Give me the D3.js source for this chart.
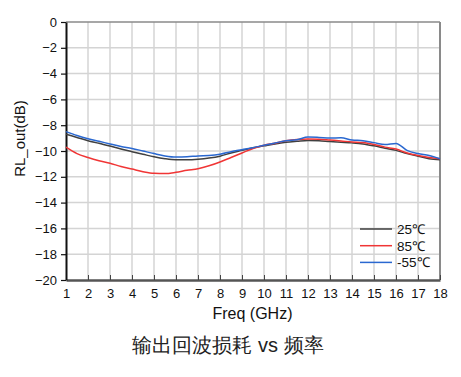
<!DOCTYPE html>
<html><head><meta charset="utf-8">
<script src="https://cdn.jsdelivr.net/npm/d3@7"></script>
<style>body{margin:0;background:#fff}svg{display:block}text{font-family:"Liberation Sans",Arial,sans-serif}</style>
</head><body>
<svg id="c" width="461" height="377"></svg>
<script>
const freq = d3.range(1, 18.01, 0.5);
const rl25 = [-8.7,-8.95,-9.2,-9.4,-9.62,-9.85,-10.05,-10.25,-10.45,-10.6,-10.68,-10.68,-10.64,-10.55,-10.4,-10.15,-9.95,-9.75,-9.6,-9.45,-9.33,-9.25,-9.18,-9.2,-9.27,-9.32,-9.37,-9.45,-9.6,-9.78,-9.95,-10.2,-10.4,-10.6,-10.68];
const rl85 = [-9.7,-10.2,-10.5,-10.75,-10.95,-11.2,-11.4,-11.6,-11.73,-11.75,-11.65,-11.5,-11.38,-11.15,-10.85,-10.5,-10.15,-9.8,-9.55,-9.4,-9.2,-9.1,-9.07,-9.08,-9.15,-9.22,-9.3,-9.35,-9.5,-9.7,-9.85,-10.15,-10.35,-10.5,-10.6];
const rlm55 = [-8.5,-8.8,-9.05,-9.25,-9.45,-9.65,-9.8,-10.0,-10.2,-10.38,-10.47,-10.45,-10.38,-10.35,-10.25,-10.05,-9.9,-9.75,-9.55,-9.38,-9.2,-9.12,-8.92,-8.95,-9.0,-8.98,-9.15,-9.2,-9.35,-9.5,-9.42,-9.95,-10.2,-10.35,-10.6];
const seriesNames = ["25℃","85℃","-55℃"];
const seriesColors = ["#404040","#f03535","#2a68d0"];
const xTicks = d3.range(1, 19, 1);
const yTicks = d3.range(-20, 1, 2);
const xTitle = "Freq (GHz)", yTitle = "RL_out(dB)", chartTitle = "输出回波损耗 vs 频率";

const svg = d3.select("#c");
const L = 66, R = 440, T = 22, B = 280;
const x = d3.scaleLinear().domain([1, 18]).range([L, R]);
const y = d3.scaleLinear().domain([-20, 0]).range([B, T]);

// grid
const g = svg.append("g");
g.selectAll(".vx").data(xTicks.slice(1, -1)).join("line")
  .attr("x1", d => x(d)).attr("x2", d => x(d)).attr("y1", T).attr("y2", B)
  .attr("stroke", "#d4d4d4").attr("stroke-width", 1.5);
g.selectAll(".hy").data(yTicks.slice(1, -1)).join("line")
  .attr("y1", d => y(d)).attr("y2", d => y(d)).attr("x1", L).attr("x2", R)
  .attr("stroke", "#d4d4d4").attr("stroke-width", 1.5);
// top & right borders
svg.append("line").attr("x1", L).attr("x2", R).attr("y1", T).attr("y2", T).attr("stroke", "#8a8a8a").attr("stroke-width", 1.5);
svg.append("line").attr("x1", R).attr("x2", R).attr("y1", T).attr("y2", B).attr("stroke", "#8a8a8a").attr("stroke-width", 2);

// axes
const xAxis = svg.append("g").attr("transform", `translate(0,${B})`)
  .call(d3.axisBottom(x).tickValues(xTicks).tickFormat(d3.format("d")).tickSizeInner(-5).tickSizeOuter(0).tickPadding(9));
xAxis.select(".domain").attr("stroke", "#555").attr("stroke-width", 2.5);
xAxis.selectAll(".tick line").attr("stroke", "#444").attr("stroke-width", 1);
xAxis.selectAll("text").attr("font-size", 13).attr("fill", "#111");

const yAxis = svg.append("g").attr("transform", `translate(${L},0)`)
  .call(d3.axisLeft(y).tickValues(yTicks).tickFormat(d3.format("d")).tickSizeInner(5).tickSizeOuter(0).tickPadding(4));
yAxis.select(".domain").attr("stroke", "#111").attr("stroke-width", 2);
yAxis.selectAll(".tick line").attr("stroke", "#111").attr("stroke-width", 1.2);
yAxis.selectAll("text").attr("font-size", 13).attr("fill", "#111");

// lines
const series = [rl25, rl85, rlm55];
const line = d3.line().x((d, i) => x(freq[i])).y(d => y(d)).curve(d3.curveMonotoneX);
series.forEach((s, k) => {
  svg.append("path").datum(s).attr("d", line).attr("fill", "none")
    .attr("stroke", seriesColors[k]).attr("stroke-width", 1.5);
});

// legend
const lg = svg.append("g");
seriesNames.forEach((n, k) => {
  const yy = 229 + k * 16.7;
  lg.append("line").attr("x1", 360).attr("x2", 392).attr("y1", yy).attr("y2", yy)
    .attr("stroke", seriesColors[k]).attr("stroke-width", 1.5);
  lg.append("text").attr("x", 397).attr("y", yy + 5).attr("font-size", 13.5).attr("fill", "#111").text(n);
});

// titles
svg.append("text").attr("x", 252.5).attr("y", 319).attr("text-anchor", "middle").attr("font-size", 16).attr("fill", "#111").text(xTitle);
svg.append("text").attr("transform", "translate(25,138.5) rotate(-90)").attr("text-anchor", "middle").attr("font-size", 15).attr("fill", "#111").text(yTitle);
svg.append("text").attr("x", 228).attr("y", 352).attr("text-anchor", "middle").attr("font-size", 20)
  .attr("font-family", "'Noto Sans CJK SC','Liberation Sans',sans-serif").attr("fill", "#222").text(chartTitle);
</script>
</body></html>
